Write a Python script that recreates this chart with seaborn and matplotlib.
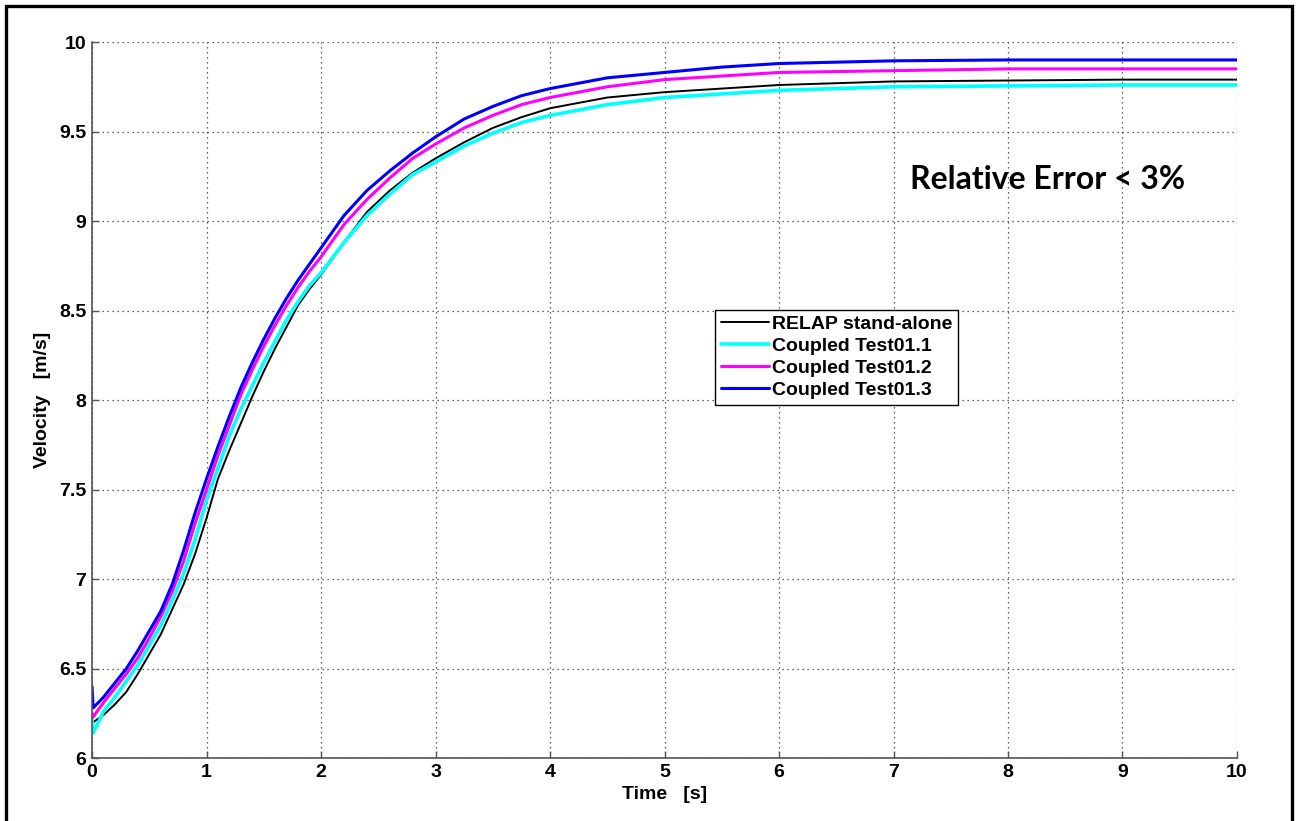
import numpy as np
import pandas as pd
import matplotlib
matplotlib.use("Agg")
import matplotlib.pyplot as plt
from matplotlib.patches import Rectangle
import seaborn as sns

# time grid [s]
time_s = [0, 0.01, 0.1, 0.2, 0.3, 0.4, 0.5, 0.6, 0.7, 0.8, 0.9, 1.0, 1.1, 1.2, 1.3,
          1.4, 1.5, 1.6, 1.7, 1.8, 1.9, 2.0, 2.2, 2.4, 2.6, 2.8, 3.0, 3.25, 3.5,
          3.75, 4.0, 4.5, 5.0, 5.5, 6.0, 7.0, 8.0, 9.0, 10.0]

# velocities [m/s]
relap = [6.20, 6.20, 6.24, 6.30, 6.37, 6.47, 6.58, 6.69, 6.83, 6.97, 7.14, 7.34, 7.56,
         7.72, 7.87, 8.02, 8.16, 8.29, 8.41, 8.53, 8.62, 8.70, 8.88, 9.05, 9.17, 9.27,
         9.35, 9.44, 9.52, 9.58, 9.63, 9.69, 9.72, 9.74, 9.76, 9.78, 9.785, 9.79, 9.79]
test01_1 = [6.22, 6.14, 6.26, 6.34, 6.43, 6.52, 6.63, 6.74, 6.88, 7.03, 7.22, 7.44, 7.62,
            7.80, 7.95, 8.08, 8.21, 8.33, 8.45, 8.55, 8.64, 8.71, 8.88, 9.03, 9.15, 9.26,
            9.33, 9.42, 9.49, 9.55, 9.59, 9.65, 9.69, 9.71, 9.73, 9.75, 9.755, 9.76, 9.76]
test01_2 = [6.25, 6.23, 6.31, 6.39, 6.47, 6.56, 6.67, 6.79, 6.93, 7.10, 7.31, 7.50, 7.69,
            7.86, 8.03, 8.17, 8.30, 8.42, 8.53, 8.63, 8.72, 8.80, 8.98, 9.12, 9.24, 9.35,
            9.43, 9.52, 9.59, 9.65, 9.69, 9.75, 9.79, 9.81, 9.83, 9.84, 9.85, 9.85, 9.85]
test01_3 = [6.40, 6.28, 6.34, 6.42, 6.50, 6.60, 6.71, 6.82, 6.97, 7.16, 7.37, 7.56, 7.74,
            7.91, 8.07, 8.21, 8.34, 8.46, 8.57, 8.67, 8.76, 8.85, 9.03, 9.17, 9.28, 9.38,
            9.47, 9.57, 9.64, 9.70, 9.74, 9.80, 9.83, 9.86, 9.88, 9.895, 9.90, 9.90, 9.90]

series = [
    ("RELAP stand-alone", relap, "black", 1.4),
    ("Coupled Test01.1", test01_1, "#00ffff", 2.6),
    ("Coupled Test01.2", test01_2, "#ff00ff", 2.2),
    ("Coupled Test01.3", test01_3, "#0000ff", 2.2),
]

sns.set_style("white")
plt.rcParams["font.family"] = ["Liberation Sans", "DejaVu Sans"]
plt.rcParams["text.color"] = "black"
plt.rcParams["axes.labelcolor"] = "black"

fig = plt.figure(figsize=(12.98, 8.21), dpi=100)
ax = fig.add_axes([0.0709, 0.0767, 0.8821, 0.8721])

for name, vals, col, lw in series:
    sns.lineplot(x=time_s, y=vals, color=col, lw=lw, label=name, ax=ax)

ax.set_xlim(0, 10)
ax.set_ylim(6, 10)
ax.set_xticks(np.arange(0, 11, 1))
ax.set_yticks(np.arange(6, 10.01, 0.5))
ax.set_xticklabels([f"{v:g}" for v in np.arange(0, 11, 1)])
ax.set_yticklabels([f"{v:g}" for v in np.arange(6, 10.01, 0.5)])
ax.tick_params(direction="in", length=5, width=1, color="#555555", labelcolor="black",
               labelsize=14, pad=4, bottom=True, left=True)
for lab in ax.get_xticklabels() + ax.get_yticklabels():
    lab.set_fontweight("bold")

ax.grid(True, linestyle=(0, (1, 3)), color="#333333", linewidth=0.9)
for side in ["top", "right"]:
    ax.spines[side].set_visible(False)
for side in ["left", "bottom"]:
    ax.spines[side].set_color("#555555")
    ax.spines[side].set_linewidth(1.2)

ax.set_xlabel("Time   [s]", fontsize=14, fontweight="bold", labelpad=4)
ax.set_ylabel("Velocity   [m/s]", fontsize=14, fontweight="bold", labelpad=6)

ax.text(7.14, 9.23, "Relative Error < 3%", fontsize=23, fontweight="bold",
        family=["Lato", "DejaVu Sans"], va="center", ha="left", color="black")

leg = ax.legend(loc="upper left", bbox_to_anchor=(0.544, 0.626),
                prop={"weight": "bold", "size": 14}, handlelength=2.5,
                labelspacing=0.22, borderpad=0.3, handletextpad=0.15,
                borderaxespad=0, fancybox=False, framealpha=1, edgecolor="black")
leg.get_frame().set_linewidth(1.0)

# outer frame of the picture (no bottom edge visible)
fig.add_artist(Rectangle((0.0046, -0.05), 0.9904, 1.0433, transform=fig.transFigure,
                         fill=False, edgecolor="black", linewidth=2.4))

fig.savefig("out.png", dpi=100)
